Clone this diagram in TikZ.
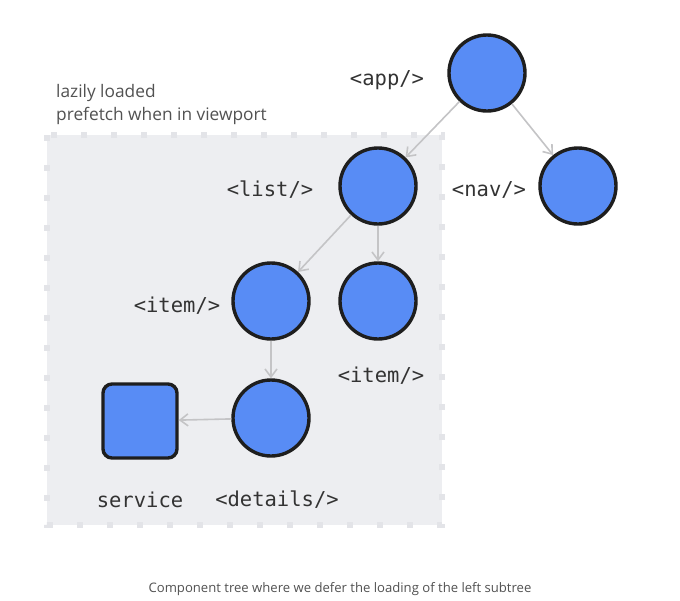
\documentclass[tikz,border=0pt]{standalone}
\usepackage{fontspec}
\setmainfont{Open Sans}
\setmonofont{DejaVu Sans Mono}
\usetikzlibrary{arrows.meta}
\definecolor{nodeblue}{HTML}{588CF5}
\definecolor{boxfill}{HTML}{EDEEF1}
\definecolor{boxedge}{HTML}{E3E4E8}
\definecolor{edgegrey}{HTML}{C4C4C6}
\definecolor{outline}{HTML}{1E1E1E}
\definecolor{labelgrey}{HTML}{333333}
\begin{document}
\begin{tikzpicture}[x=1pt,y=-1pt,
  comp/.style={circle,draw=outline,line width=3.4pt,fill=nodeblue,minimum size=76pt,inner sep=0pt},
  svc/.style={rectangle,rounded corners=9pt,draw=outline,line width=3.4pt,fill=nodeblue,minimum size=74pt,inner sep=0pt},
  lbl/.style={font=\fontsize{20.5}{24}\selectfont\ttfamily,text=labelgrey,inner sep=0pt},
  link/.style={draw=edgegrey,line width=1.6pt,-{Straight Barb[length=8pt,width=12pt,line width=1.6pt]}}]
\useasboundingbox (0,0) rectangle (680,600);
\fill[white] (0,0) rectangle (680,600);
% lazy box
\path[fill=boxfill,draw=boxedge,line width=6pt,dash pattern=on 6pt off 24pt]
  (47,135) rectangle (442,525);
\node[anchor=west,align=left,inner sep=0pt,text=labelgrey!85,font=\fontsize{17.3}{23}\selectfont] (lazy) at (56,105)
  {lazily loaded\\prefetch when in viewport};
% nodes
\node[comp] (app) at (487,73) {};
\node[comp] (list) at (378,186) {};
\node[comp] (nav) at (578,186) {};
\node[comp] (itemL) at (271,301) {};
\node[comp] (itemR) at (378,301) {};
\node[comp] (details) at (271,418) {};
\node[svc] (service) at (140,421) {};
% labels
\node[lbl] (lapp) at (387,80) {<app/>};
\node[lbl] (llist) at (270,190) {<list/>};
\node[lbl] (lnav) at (489,190) {<nav/>};
\node[lbl] (litemL) at (177,306) {<item/>};
\node[lbl] (litemR) at (381,376) {<item/>};
\node[lbl] (lservice) at (140,500) {service};
\node[lbl] (ldetails) at (277,500) {<details/>};
% edges
\draw[link] (app) -- (list);
\draw[link] (app) -- (nav);
\draw[link] (list) -- (itemL);
\draw[link] (list) -- (itemR);
\draw[link] (itemL) -- (details);
\draw[link] (details) -- (service);
% caption
\node[text=labelgrey!85,font=\fontsize{13.1}{15}\selectfont] (cap) at (340,589)
  {Component tree where we defer the loading of the left subtree};
\end{tikzpicture}
\end{document}
